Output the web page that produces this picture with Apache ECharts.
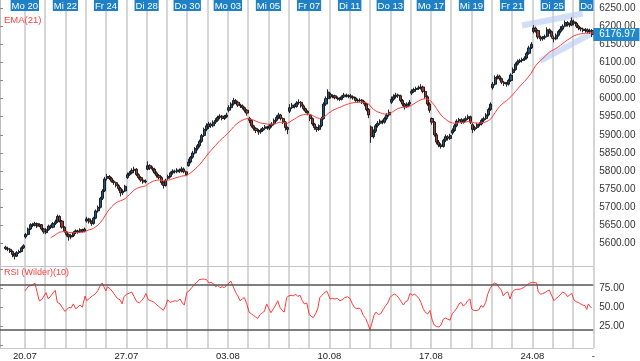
<!DOCTYPE html>
<html><head><meta charset="utf-8">
<script src="https://cdn.jsdelivr.net/npm/echarts@6/dist/echarts.min.js"></script>
<style>html,body{margin:0;padding:0;background:#fff}#c{width:640px;height:361px}</style>
</head><body><div id="c"></div>
<script>
// day labels (one per trading day, Fr 17.07 .. Do 27.08)
const dayLabels = ['Fr 17','Mo 20','Di 21','Mi 22','Do 23','Fr 24','Mo 27','Di 28','Mi 29','Do 30','Fr 31',
  'Mo 03','Di 04','Mi 05','Do 06','Fr 07','Mo 10','Di 11','Mi 12','Do 13','Fr 14',
  'Mo 17','Di 18','Mi 19','Do 20','Fr 21','Mo 24','Di 25','Mi 26','Do'];
const weekLabels = {1:'20.07',6:'27.07',11:'03.08',16:'10.08',21:'17.08',26:'24.08',29:'-'};
const priceTicks = [5600,5650,5700,5750,5800,5850,5900,5950,6000,6050,6100,6150,6200,6250];
const rsiTicks = [25,50,75];
const rsiLevels = [80,20];
// hourly bars: [open, close, low, high]
const week0 = [
 [5590,5586,5582,5594],[5586,5584,5579,5591],[5584,5578,5574,5588],[5578,5570,5562,5581],[5570,5565,5556,5574],[5565,5575,5563,5579],[5575,5578,5571,5583],[5578,5588,5576,5592],[5588,5594,5585,5598]];
const week1 = [
 [5618,5625,5614,5629],[5625,5640,5622,5644],[5640,5652,5637,5656],[5652,5650,5645,5657],[5650,5655,5647,5660],[5655,5648,5643,5658],[5648,5652,5645,5656],[5652,5640,5636,5654],[5640,5632,5627,5643],
 [5630,5638,5626,5642],[5638,5648,5635,5652],[5648,5645,5640,5652],[5645,5655,5642,5659],[5655,5660,5651,5666],[5660,5675,5657,5680],[5675,5662,5658,5678],[5662,5645,5641,5665],[5645,5635,5630,5648],
 [5632,5625,5619,5635],[5625,5618,5608,5628],[5618,5622,5612,5627],[5622,5630,5618,5634],[5630,5635,5626,5639],[5635,5632,5627,5638],[5632,5638,5629,5642],[5638,5634,5630,5641],[5634,5640,5631,5644],
 [5662,5668,5658,5674],[5668,5660,5655,5671],[5660,5655,5649,5664],[5655,5670,5652,5674],[5670,5690,5667,5694],[5690,5700,5685,5705],[5700,5725,5697,5729],[5725,5745,5720,5750],[5745,5778,5742,5784],
 [5780,5785,5774,5792],[5785,5780,5775,5789],[5780,5772,5768,5784],[5772,5768,5762,5776],[5768,5760,5755,5771],[5760,5752,5746,5764],[5752,5740,5730,5756],[5740,5745,5734,5750],[5745,5758,5742,5762]];
const week2 = [
 [5782,5790,5778,5796],[5790,5795,5786,5800],[5795,5802,5791,5808],[5802,5805,5797,5812],[5805,5790,5786,5808],[5790,5782,5777,5794],[5782,5775,5770,5786],[5775,5770,5765,5779],[5770,5772,5766,5777],
 [5805,5815,5802,5827],[5815,5808,5803,5819],[5808,5805,5799,5813],[5805,5795,5791,5809],[5795,5788,5782,5799],[5788,5782,5777,5792],[5782,5768,5762,5786],[5768,5760,5752,5772],[5760,5775,5757,5779],
 [5780,5785,5776,5790],[5785,5795,5782,5799],[5795,5800,5790,5805],[5800,5798,5793,5804],[5798,5803,5794,5808],[5803,5800,5795,5807],[5800,5806,5796,5812],[5806,5798,5794,5810],[5798,5790,5786,5801],
 [5815,5825,5812,5834],[5825,5838,5821,5842],[5838,5850,5834,5856],[5850,5862,5846,5866],[5862,5870,5857,5875],[5870,5882,5865,5887],[5882,5898,5878,5903],[5898,5915,5894,5920],[5915,5925,5910,5932],
 [5922,5930,5916,5936],[5930,5925,5919,5934],[5925,5935,5921,5940],[5935,5940,5930,5946],[5940,5948,5936,5953],[5948,5952,5943,5957],[5952,5945,5940,5955],[5945,5950,5941,5955],[5950,5955,5946,5961]];
const week3 = [
 [5968,5975,5962,5982],[5975,5985,5971,5990],[5985,5995,5981,6002],[5995,5990,5985,5999],[5990,5982,5977,5994],[5982,5980,5974,5986],[5980,5975,5970,5984],[5975,5968,5962,5978],[5968,5960,5953,5971],
 [5946,5940,5932,5950],[5940,5925,5920,5944],[5925,5918,5912,5928],[5918,5912,5905,5921],[5912,5908,5900,5916],[5908,5912,5903,5917],[5912,5918,5908,5922],[5918,5922,5913,5927],[5922,5920,5914,5925],
 [5918,5925,5913,5930],[5925,5930,5920,5935],[5930,5940,5926,5945],[5940,5948,5936,5954],[5948,5955,5943,5961],[5955,5945,5940,5958],[5945,5935,5930,5948],[5935,5920,5912,5938],[5920,5915,5902,5923],
 [5965,5975,5960,5985],[5975,5982,5971,5988],[5982,5978,5973,5986],[5978,5988,5975,5993],[5988,5990,5983,5998],[5990,5980,5975,5993],[5980,5972,5967,5984],[5972,5965,5960,5975],[5965,5960,5954,5968],
 [5955,5945,5938,5958],[5945,5930,5925,5948],[5930,5920,5914,5933],[5920,5915,5908,5923],[5915,5925,5911,5929],[5925,5945,5921,5950],[5945,5985,5942,5990],[5985,6000,5980,6006],[6000,6018,5996,6026]];
const week4 = [
 [6012,6005,6000,6016],[6005,6008,6001,6012],[6008,6002,5998,6011],[6002,6000,5995,6006],[6000,5998,5993,6004],[5998,6005,5995,6009],[6005,6010,6002,6016],[6010,6008,6003,6014],[6008,6006,6001,6012],
 [6008,6005,6000,6013],[6005,6002,5997,6009],[6002,5995,5991,6005],[5995,5994,5989,6000],[5994,5996,5990,6001],[5996,5990,5985,5999],[5990,5985,5979,5994],[5985,5970,5965,5988],[5970,5955,5946,5974],
 [5922,5895,5878,5926],[5895,5910,5890,5915],[5910,5925,5905,5930],[5925,5932,5920,5938],[5932,5938,5927,5943],[5938,5935,5929,5942],[5935,5945,5931,5950],[5945,5955,5940,5960],[5955,5962,5950,5970],
 [5990,5998,5985,6006],[5998,6005,5994,6012],[6005,6010,6000,6016],[6010,6008,6002,6014],[6008,5995,5990,6011],[5995,5985,5979,5999],[5985,5978,5970,5988],[5978,5985,5974,5990],[5985,5990,5980,5996],
 [6015,6020,6010,6026],[6020,6025,6016,6030],[6025,6028,6021,6033],[6028,6030,6024,6036],[6030,6032,6025,6040],[6032,6020,6015,6036],[6020,6005,6000,6024],[6005,5985,5980,6009],[5985,5968,5961,5990]];
const week5 = [
 [5945,5935,5928,5948],[5935,5900,5895,5938],[5900,5880,5874,5905],[5880,5872,5866,5886],[5872,5868,5862,5877],[5868,5885,5865,5889],[5885,5895,5880,5901],[5895,5890,5884,5899],[5890,5898,5886,5903],
 [5905,5912,5900,5918],[5912,5925,5908,5930],[5925,5938,5921,5943],[5938,5942,5933,5947],[5942,5935,5930,5946],[5935,5940,5931,5945],[5940,5945,5936,5951],[5945,5950,5941,5956],[5950,5935,5930,5953],
 [5928,5915,5905,5932],[5915,5920,5910,5925],[5920,5928,5916,5933],[5928,5930,5923,5935],[5930,5940,5926,5945],[5940,5945,5935,5950],[5945,5955,5941,5960],[5955,5970,5951,5975],[5970,5985,5966,5990],
 [6030,6040,6025,6046],[6040,6058,6036,6064],[6058,6062,6053,6067],[6062,6055,6050,6066],[6055,6045,6040,6058],[6045,6042,6035,6049],[6042,6040,6033,6046],[6040,6050,6036,6055],[6050,6065,6046,6070],
 [6072,6080,6068,6086],[6080,6095,6077,6100],[6095,6102,6091,6108],[6102,6105,6098,6110],[6105,6108,6100,6113],[6108,6112,6104,6117],[6112,6125,6108,6130],[6125,6140,6121,6146],[6140,6150,6137,6156]];
const week6 = [
 [6185,6195,6180,6203],[6195,6188,6182,6199],[6188,6170,6164,6191],[6170,6165,6159,6174],[6165,6168,6160,6173],[6168,6172,6163,6177],[6172,6190,6169,6197],[6190,6185,6179,6194],[6185,6172,6166,6188],
 [6168,6165,6155,6174],[6165,6175,6161,6180],[6175,6185,6171,6190],[6185,6192,6180,6200],[6192,6200,6188,6205],[6200,6210,6197,6216],[6210,6205,6199,6214],[6205,6203,6197,6210],[6203,6215,6200,6224],
 [6212,6208,6202,6218],[6208,6200,6195,6212],[6200,6195,6189,6204],[6195,6192,6186,6198],[6192,6188,6183,6196],[6188,6190,6182,6195],[6190,6185,6180,6194],[6185,6188,6179,6193],[6188,6176.97,6170,6192]];
// RSI (Wilder)(10): [bar position, value]
const rsiPoints = [
 [8.6,71.7],[10.1,78],[11.6,79],[13,82],[14,69.5],[14.9,58.7],[16,60],[17,65],[17.9,69.5],[18.9,61],[20,65],[21.1,69.5],[22,72.5],[22.9,56.6],
 [24.1,54.5],[25.3,49],[26.3,44.6],[27.1,43.7],[28.1,50],[29,49],[30,54.5],[31.1,48],[31.9,50],[33,53],[34,50],[35.2,65],[35.9,58.7],
 [37.1,61.8],[38.4,65],[39.6,67.4],[40.8,71.7],[41.8,78],[42.8,82.3],[43.6,83],[44.4,71.7],[45.1,77.2],[46.3,74.6],[47.5,70.3],[48.5,66],
 [49.5,61.8],[50.7,60],[51.6,54.5],[52.5,64.3],[53.7,67.4],[54.8,68.6],[55.9,70.3],[56.9,64.3],[58.1,57.5],[59.3,55.8],[60.3,58.7],[61.3,63],
 [62.2,68.2],[63.2,60],[64.3,58.7],[65.5,57.5],[66.5,54.5],[67.7,51.5],[68.7,49],[69.9,46],[71,52.3],[71.8,60],[72.9,56.6],[73.9,57.5],
 [75.1,58.7],[76.1,58],[77.3,61],[78.3,55.8],[79.2,53],[80.3,69.5],[81.3,71.7],[82.5,76],[83.6,80.2],[84.7,83],[85.7,86.5],[86.9,87.3],
 [88.1,87.3],[89.1,86.5],[90.1,82.3],[91,83],[92.1,81.4],[93.1,77.2],[94,79],[95,76],[96,77.2],[96.9,76],[98,79],[99,82.3],[99.9,84.5],
 [100.9,77.2],[102,69.5],[102.9,65.2],[103.9,58.7],[104.9,61],[105.8,63],[106.9,54.5],[107.9,43.7],[108.8,41.6],[109.8,39.4],[110.8,37.3],
 [111.7,35.1],[112.8,40.3],[113.8,42.9],[114.7,44.6],[115.7,54.5],[116.7,48],[117.6,42.9],[118.7,48],[119.7,53],[120.6,58.7],[121.6,50],
 [122.6,45.8],[123.5,43.7],[124.6,63],[125.6,65.2],[126.5,66],[127.5,65.2],[128.6,67.4],[129.5,64.3],[130.5,66],[131.5,58.7],[132.4,54.5],
 [133.5,55.8],[134.5,41.6],[135.4,38.2],[136.4,36.4],[137.4,41.6],[138.3,48],[139.3,63],[140.1,65],[141.1,68.6],[142.3,71.7],[143,67.4],
 [143.8,61],[144.8,61.8],[146,61],[147,61.8],[148.2,58.7],[149.2,60],[150.4,63],[151.5,63.9],[152.6,62],[153.7,54.5],[154.6,50],[155.6,48],
 [156.6,49],[157.5,47.2],[158.5,39.4],[159.6,35.1],[160.5,28.7],[161.5,20],[162.3,28.7],[163.3,39.4],[164.2,43.7],[165.2,40.3],[166.3,41.6],
 [167.4,47.2],[168.5,52.3],[169.4,55.8],[170.4,63],[171.4,66],[172.3,67.4],[173.3,66],[174.4,61.8],[175.3,57.5],[176.3,53],[177.3,57.5],
 [178.2,58.7],[179.2,68.2],[180.3,66],[181.2,67.4],[182.2,65.2],[183.2,61.8],[184.1,56.6],[185.1,48],[186.2,42.9],[187.1,41.2],[188.1,45.8],
 [189.1,33],[190,26.5],[191.1,24.4],[192.1,23.9],[193,26.5],[194,34.2],[195.1,35.9],[196,34.2],[197,33],[198,41.6],[198.9,44.6],[200,49],
 [201,54.5],[201.9,56.6],[202.9,51.5],[203.9,54.5],[204.8,58.7],[205.8,61],[206.6,48],[207.6,45.8],[208.8,45.8],[209.8,46.7],[210.7,52.3],
 [211.7,50],[212.8,56.6],[213.7,67.4],[214.7,74.6],[215.7,79],[216.6,82.3],[217.7,81],[218.7,76],[219.6,73.8],[220.6,65.2],[221.7,69.5],
 [222.6,70.3],[223.6,61],[224.6,70.3],[225.5,72.9],[226.5,73.8],[227.6,73.8],[228.5,74.6],[229.5,76],[230.5,78],[231.4,80.2],[232.4,82.3],
 [233.5,83],[234.3,81],[235.4,82.3],[236.1,70.3],[237.2,67.4],[238.1,68.2],[239.1,69.5],[240.1,71.7],[241,72.9],[242.1,65.2],[243.1,58.7],
 [244,61.8],[245,63.9],[246.1,67.4],[246.9,70.3],[248,68.6],[249,64.3],[249.9,66],[250.9,68.6],[251.9,60],[252.8,57.5],[253.8,56.6],
 [254.9,54.5],[255.8,53],[256.8,52.3],[257.6,47.2],[258.3,54.5],[259,51.5],[259.8,49]];
// hand-drawn trend channel (bar position, price)
const channelUpper = [[228.9,6202],[255.8,6235]];
const channelLower = [[236.9,6104],[260.1,6181]];

const BARS_PER_DAY = 9, PAD = 2;
const bars = [].concat(week0, week1, week2, week3, week4, week5, week6);
const N = bars.length + PAD;
const cats = Array.from({length: N}, (_, i) => String(i));
const candleData = [];
for (let i = 0; i < PAD; i++) candleData.push(['-','-','-','-']);
bars.forEach(b => candleData.push(b));
const closes = bars.map(b => b[1]);
const pos = k => k + PAD + 0.5;   // bar position -> value-axis coordinate (bar centre)

// EMA(21) of the closes
const ema = new Array(N).fill('-');
{
  const p = 21, a = 2 / (p + 1);
  let s = 0; for (let i = 0; i < p; i++) s += closes[i];
  let e = s / p; ema[PAD + p - 1] = e;
  for (let i = p; i < closes.length; i++) { e = e + a * (closes[i] - e); ema[PAD + i] = e; }
}
const lastClose = closes[closes.length - 1];
const dayPos = d => PAD + d * BARS_PER_DAY;
const topLabelVals = [], bottomLabelVals = [];
dayLabels.forEach((_, d) => { if (d % 2 === 1) topLabelVals.push(dayPos(d)); if (weekLabels[d]) bottomLabelVals.push(dayPos(d)); });
const isDayStart = i => i > PAD && (i - PAD) % BARS_PER_DAY === 0;

const FONT = '"Liberation Sans", Arial, sans-serif';
const gridRight = 46.7;
const chart = echarts.init(document.getElementById('c'), null, {renderer: 'canvas'});
chart.setOption({
  animation: false,
  textStyle: {fontFamily: FONT},
  title: [
    {text: 'EMA(21)', left: 4, top: 15, padding: 0, textStyle: {color: '#ff4040', fontSize: 9.5, fontWeight: 'normal', fontFamily: FONT}},
    {text: 'RSI (Wilder)(10)', left: 4, top: 268.5, padding: 0, textStyle: {color: '#ff4040', fontSize: 9, fontWeight: 'normal', fontFamily: FONT}}
  ],
  grid: [
    {left: 0, right: gridRight, top: 0, height: 266.7},
    {left: 0, right: gridRight, top: 266.7, height: 83.3}
  ],
  xAxis: [
    {type: 'category', gridIndex: 0, data: cats, boundaryGap: true,
     axisLine: {show: true, lineStyle: {color: '#c4c4c4', width: 1}}, axisTick: {show: false}, axisLabel: {show: false},
     splitLine: {show: true, interval: (i) => isDayStart(i), lineStyle: {color: '#d6d6d6', width: 2}}},
    {type: 'value', gridIndex: 0, min: 0, max: N, position: 'top',
     axisLine: {show: false}, axisTick: {show: false}, splitLine: {show: false},
     axisLabel: {show: true, inside: true, margin: 1, customValues: topLabelVals,
       formatter: (v) => { const d = Math.round((v - PAD) / BARS_PER_DAY); return d === dayLabels.length - 1 ? '{b|' + dayLabels[d] + '}{g|}' : '{b|' + dayLabels[d] + '}'; },
       rich: {b: {backgroundColor: '#1f80c6', color: '#fff', fontSize: 9.5, fontFamily: FONT, padding: [1, 1, 0, 1], lineHeight: 9},
              g: {width: 14, fontSize: 9}}}},
    {type: 'category', gridIndex: 1, data: cats, boundaryGap: true,
     axisLine: {show: false}, axisTick: {show: false}, axisLabel: {show: false},
     splitLine: {show: true, interval: (i) => isDayStart(i), lineStyle: {color: '#d6d6d6', width: 2}}},
    {type: 'value', gridIndex: 1, min: 0, max: N, position: 'bottom',
     axisLine: {show: true, lineStyle: {color: '#c8c8c8'}}, axisTick: {show: false}, splitLine: {show: false},
     axisLabel: {show: true, margin: 3, customValues: bottomLabelVals, color: '#222', fontSize: 9.5, fontFamily: FONT,
       formatter: (v) => weekLabels[Math.round((v - PAD) / BARS_PER_DAY)] || ''}}
  ],
  yAxis: [
    {type: 'value', gridIndex: 0, position: 'right', min: 5536, max: 6272.3, scale: true,
     axisLine: {show: true, lineStyle: {color: '#bdbdbd'}},
     axisTick: {show: true, length: 3, customValues: priceTicks, lineStyle: {color: '#888'}},
     axisLabel: {show: true, margin: 6, customValues: priceTicks, color: '#333', fontSize: 10, fontFamily: FONT, formatter: v => v.toFixed(2)},
     splitLine: {show: false}},
    {type: 'value', gridIndex: 1, position: 'right', min: -3.9, max: 103.8,
     axisLine: {show: true, lineStyle: {color: '#bdbdbd'}},
     axisTick: {show: true, length: 3, customValues: [0,25,50,75,100], lineStyle: {color: '#888'}},
     axisLabel: {show: true, margin: 6, customValues: rsiTicks, color: '#333', fontSize: 10, fontFamily: FONT, formatter: v => v.toFixed(2)},
     splitLine: {show: false}}
  ],
  series: [
    {type: 'line', xAxisIndex: 1, yAxisIndex: 0, data: channelUpper.map(p => [pos(p[0]), p[1]]), symbol: 'none', silent: true, z: 1,
     lineStyle: {color: 'rgba(185,205,240,0.65)', width: 6, cap: 'butt'}},
    {type: 'line', xAxisIndex: 1, yAxisIndex: 0, data: channelLower.map(p => [pos(p[0]), p[1]]), symbol: 'none', silent: true, z: 1,
     lineStyle: {color: 'rgba(185,205,240,0.65)', width: 6, cap: 'butt'}},
    {type: 'candlestick', xAxisIndex: 0, yAxisIndex: 0, data: candleData, barWidth: 2.6, z: 3,
     itemStyle: {color: '#1d5586', color0: '#a83a2a', borderColor: '#111', borderColor0: '#111', borderWidth: 0.9},
     markLine: {silent: true, symbol: ['none', 'none'], lineStyle: {color: 'rgba(0,0,0,0)'},
       data: [{yAxis: lastClose}],
       label: {show: true, position: 'end', distance: 0, formatter: () => lastClose.toFixed(2),
         backgroundColor: '#2288cc', color: '#fff', fontSize: 10, fontFamily: FONT, padding: [2, 4, 1, 6]}}},
    {type: 'line', xAxisIndex: 0, yAxisIndex: 0, data: ema, symbol: 'none', z: 4,
     lineStyle: {color: '#ff3a3a', width: 1}},
    {type: 'line', xAxisIndex: 3, yAxisIndex: 1, data: rsiPoints.map(p => [pos(p[0]), p[1]]), symbol: 'none', z: 4,
     lineStyle: {color: '#ff3a3a', width: 1},
     markLine: {silent: true, symbol: ['none', 'none'], label: {show: false},
       lineStyle: {color: '#555', width: 1.5, type: 'solid'},
       data: rsiLevels.map(v => ({yAxis: v}))}}
  ]
});
</script></body></html>
